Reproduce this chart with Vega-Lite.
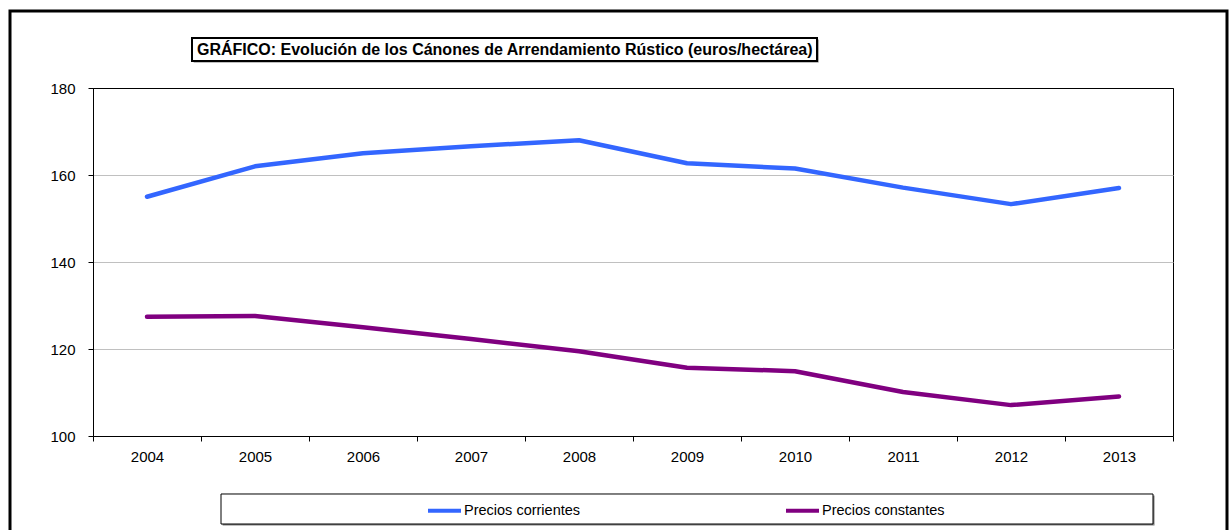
{
  "$schema": "https://vega.github.io/schema/vega-lite/v6.json",
  "width": 1080,
  "height": 348,
  "autosize": {"type": "none"},
  "padding": {"left": 93, "top": 88, "right": 57, "bottom": 94},
  "background": "white",
  "config": {
    "font": "Liberation Sans",
    "view": {"stroke": "black", "strokeWidth": 1},
    "axis": {"labelFont": "Liberation Sans", "labelColor": "black", "domainColor": "black", "tickColor": "black", "labelFontSize": 15}
  },
  "layer": [
    {
      "data": {"values": [{}]},
      "mark": {"type": "rect", "fillOpacity": 0, "stroke": "black", "strokeWidth": 3},
      "encoding": {
        "x": {"datum": 2002.7315, "type": "quantitative", "scale": {"domain": [2003.5, 2013.5], "nice": false, "zero": false}, "axis": null},
        "x2": {"datum": 2014.0},
        "y": {"datum": 197.7, "type": "quantitative", "scale": {"domain": [100, 180], "nice": false, "zero": false}},
        "y2": {"datum": 71.5}
      }
    },
    {
      "data": {"values": [{}]},
      "mark": {"type": "rect", "fill": "#808080"},
      "encoding": {
        "x": {"datum": 2004.432, "type": "quantitative", "scale": {"domain": [2003.5, 2013.5], "nice": false, "zero": false}, "axis": null},
        "x2": {"datum": 2010.219},
        "y": {"datum": 191.15, "type": "quantitative", "scale": {"domain": [100, 180], "nice": false, "zero": false}},
        "y2": {"datum": 185.86}
      }
    },
    {
      "data": {"values": [{}]},
      "mark": {"type": "rect", "fill": "white", "stroke": "black", "strokeWidth": 2},
      "encoding": {
        "x": {"datum": 2004.4167, "type": "quantitative", "scale": {"domain": [2003.5, 2013.5], "nice": false, "zero": false}, "axis": null},
        "x2": {"datum": 2010.2037},
        "y": {"datum": 191.494, "type": "quantitative", "scale": {"domain": [100, 180], "nice": false, "zero": false}},
        "y2": {"datum": 186.207}
      }
    },
    {
      "data": {"values": [{}]},
      "mark": {"type": "text", "align": "left", "baseline": "middle", "font": "Liberation Sans", "fontSize": 16, "fontWeight": "bold", "color": "black"},
      "encoding": {
        "x": {"datum": 2004.463, "type": "quantitative", "scale": {"domain": [2003.5, 2013.5], "nice": false, "zero": false}, "axis": null},
        "y": {"datum": 188.85, "type": "quantitative", "scale": {"domain": [100, 180], "nice": false, "zero": false}},
        "text": {"value": "GRÁFICO: Evolución de los Cánones de Arrendamiento Rústico (euros/hectárea)"}
      }
    },
    {
      "data": {"values": [{}]},
      "mark": {"type": "rect", "fill": "#808080"},
      "encoding": {
        "x": {"datum": 2004.70, "type": "quantitative", "scale": {"domain": [2003.5, 2013.5], "nice": false, "zero": false}, "axis": null},
        "x2": {"datum": 2013.329},
        "y": {"datum": 86.32, "type": "quantitative", "scale": {"domain": [100, 180], "nice": false, "zero": false}},
        "y2": {"datum": 79.42}
      }
    },
    {
      "data": {"values": [{}]},
      "mark": {"type": "rect", "fill": "white", "stroke": "black", "strokeWidth": 1},
      "encoding": {
        "x": {"datum": 2004.6852, "type": "quantitative", "scale": {"domain": [2003.5, 2013.5], "nice": false, "zero": false}, "axis": null},
        "x2": {"datum": 2013.3148},
        "y": {"datum": 86.667, "type": "quantitative", "scale": {"domain": [100, 180], "nice": false, "zero": false}},
        "y2": {"datum": 79.77}
      }
    },
    {
      "data": {
        "values": [
          {"year": "2004", "serie": "Precios corrientes", "value": 155.0},
          {"year": "2005", "serie": "Precios corrientes", "value": 162.0},
          {"year": "2006", "serie": "Precios corrientes", "value": 165.0},
          {"year": "2007", "serie": "Precios corrientes", "value": 166.6},
          {"year": "2008", "serie": "Precios corrientes", "value": 168.0},
          {"year": "2009", "serie": "Precios corrientes", "value": 162.7},
          {"year": "2010", "serie": "Precios corrientes", "value": 161.5},
          {"year": "2011", "serie": "Precios corrientes", "value": 157.1},
          {"year": "2012", "serie": "Precios corrientes", "value": 153.3},
          {"year": "2013", "serie": "Precios corrientes", "value": 157.0},
          {"year": "2004", "serie": "Precios constantes", "value": 127.4},
          {"year": "2005", "serie": "Precios constantes", "value": 127.6},
          {"year": "2006", "serie": "Precios constantes", "value": 125.0},
          {"year": "2007", "serie": "Precios constantes", "value": 122.3},
          {"year": "2008", "serie": "Precios constantes", "value": 119.5},
          {"year": "2009", "serie": "Precios constantes", "value": 115.7},
          {"year": "2010", "serie": "Precios constantes", "value": 114.9},
          {"year": "2011", "serie": "Precios constantes", "value": 110.1},
          {"year": "2012", "serie": "Precios constantes", "value": 107.1},
          {"year": "2013", "serie": "Precios constantes", "value": 109.1}
        ]
      },
      "mark": {"type": "line", "strokeWidth": 4.5, "strokeCap": "round", "strokeJoin": "round"},
      "encoding": {
        "x": {
          "field": "year", "type": "ordinal", "bandPosition": 0.5,
          "scale": {"type": "band", "paddingInner": 0, "paddingOuter": 0},
          "axis": {"title": null, "tickBand": "extent", "labelAngle": 0, "grid": false, "tickSize": 5, "labelPadding": 8, "labelFontSize": 15}
        },
        "y": {
          "field": "value", "type": "quantitative",
          "scale": {"domain": [100, 180], "nice": false, "zero": false},
          "axis": {
            "title": null, "values": [100, 120, 140, 160, 180], "grid": true,
            "gridColor": {"condition": {"test": "datum.value >= 180", "value": "black"}, "value": "#c0c0c0"},
            "tickSize": 5, "labelPadding": 13, "labelFontSize": 15
          }
        },
        "color": {
          "field": "serie", "type": "nominal",
          "scale": {"domain": ["Precios corrientes", "Precios constantes"], "range": ["#3366FF", "#800080"]},
          "legend": {
            "orient": "none", "legendX": 333, "legendY": 404, "direction": "horizontal", "title": null,
            "symbolType": "stroke", "symbolSize": 1089, "symbolStrokeWidth": 4,
            "labelFont": "Liberation Sans", "labelFontSize": 14.5, "labelColor": "black", "labelOffset": 1,
            "columnPadding": 197, "padding": 0, "labelLimit": 300
          }
        }
      }
    }
  ],
  "resolve": {"scale": {"x": "independent"}}
}
